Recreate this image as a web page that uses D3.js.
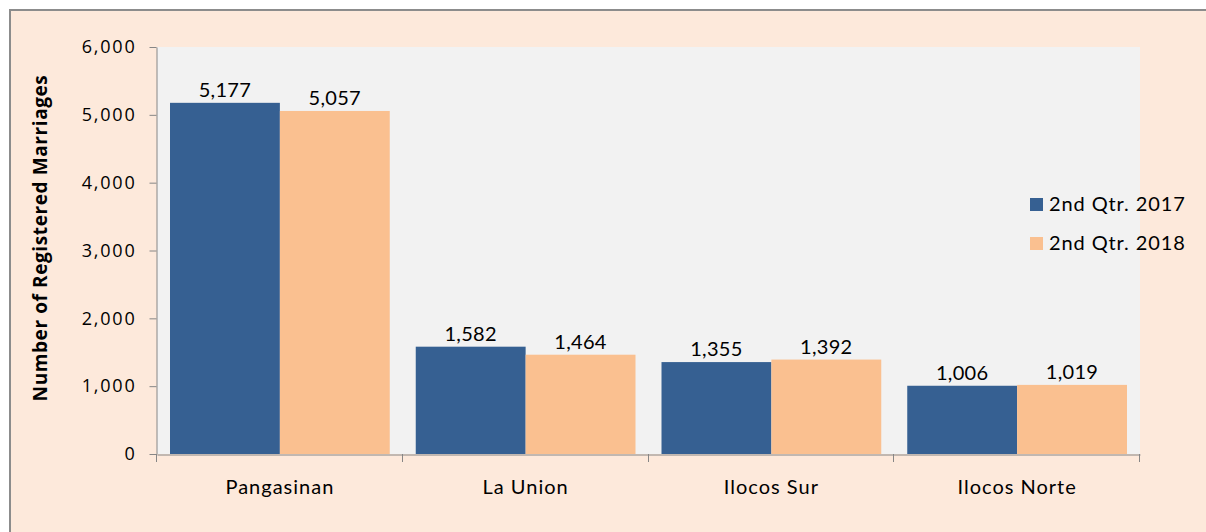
<!DOCTYPE html>
<html>
<head>
<meta charset="utf-8">
<script src="https://cdn.jsdelivr.net/npm/d3@7"></script>
<style>
  body { margin: 0; background: #ffffff; }
  svg { display: block; font-family: Lato, "Open Sans", sans-serif; }
</style>
</head>
<body>
<div id="chart"></div>
<script>
const provinces = ["Pangasinan", "La Union", "Ilocos Sur", "Ilocos Norte"];
const seriesNames = ["2nd Qtr. 2017", "2nd Qtr. 2018"];
const values2017 = [5177, 1582, 1355, 1006];
const values2018 = [5057, 1464, 1392, 1019];
const yTicks = [0, 1000, 2000, 3000, 4000, 5000, 6000];
const colors = ["#366092", "#fac090"];

const width = 1206, height = 532;
const plot = { left: 157, right: 1140, top: 47, bottom: 454 };

const svg = d3.select("#chart")
    .append("svg")
    .attr("width", width)
    .attr("height", height);

// chart frame
svg.append("rect")
    .attr("x", 10)
    .attr("y", 10)
    .attr("width", width + 10)
    .attr("height", height + 10)
    .style("fill", "#fde9db")
    .style("stroke", "#8c8c8c")
    .style("stroke-width", 2);

svg.append("rect")
    .attr("x", plot.left)
    .attr("y", plot.top)
    .attr("width", plot.right - plot.left)
    .attr("height", plot.bottom - plot.top)
    .style("fill", "#f2f2f2");

const x0 = d3.scaleBand()
    .domain(provinces)
    .range([plot.left, plot.right]);

const pad = 13;
const x1 = d3.scaleBand()
    .domain(seriesNames)
    .range([pad, x0.bandwidth() - pad]);

const yScale = d3.scaleLinear()
    .domain([0, 6000])
    .range([plot.bottom, plot.top]);

const data = provinces.map((p, i) => ({
    province: p,
    vals: [
        { s: seriesNames[0], v: values2017[i], c: colors[0] },
        { s: seriesNames[1], v: values2018[i], c: colors[1] }
    ]
}));

const groups = svg.selectAll(".group")
    .data(data)
    .enter().append("g")
    .attr("class", "group")
    .attr("transform", d => `translate(${x0(d.province)},0)`);

groups.selectAll("rect")
    .data(d => d.vals)
    .enter().append("rect")
    .attr("x", d => x1(d.s))
    .attr("y", d => yScale(d.v))
    .attr("width", x1.bandwidth())
    .attr("height", d => yScale(0) - yScale(d.v))
    .style("fill", d => d.c);

groups.selectAll("text")
    .data(d => d.vals)
    .enter().append("text")
    .attr("x", d => x1(d.s) + x1.bandwidth() / 2)
    .attr("y", d => yScale(d.v) - 6)
    .attr("text-anchor", "middle")
    .style("font-size", "20px")
    .style("letter-spacing", "0.3px")
    .style("fill", "#000")
    .text(d => d3.format(",")(d.v));

// y axis
const yAxis = svg.append("g")
    .attr("transform", `translate(${plot.left - 0.5},0)`)
    .call(d3.axisLeft(yScale).tickValues(yTicks).tickFormat(d3.format(","))
        .tickSize(7).tickPadding(13).tickSizeOuter(0));
yAxis.select(".domain").attr("stroke", "#868686");
yAxis.selectAll(".tick line").attr("stroke", "#868686");
yAxis.selectAll("text").style("font-size", "18px").style("fill", "#000")
    .style("letter-spacing", "1.8px")
    .style("font-family", "'Open Sans', sans-serif");

// x axis
const xAxis = svg.append("g")
    .attr("transform", `translate(0,${plot.bottom + 0.5})`)
    .call(d3.axisBottom(x0).tickSize(0).tickPadding(25).tickSizeOuter(0));
xAxis.select(".domain").attr("stroke", "#868686");
xAxis.selectAll("text").style("font-size", "20px").style("fill", "#000")
    .style("letter-spacing", "1px")
    .style("font-family", "Lato, sans-serif");

const boundaries = provinces.map(p => x0(p)).concat([plot.right]);
svg.selectAll(".xtick")
    .data(boundaries)
    .enter().append("line")
    .attr("class", "xtick")
    .attr("x1", d => Math.round(d) - 0.5)
    .attr("x2", d => Math.round(d) - 0.5)
    .attr("y1", plot.bottom)
    .attr("y2", plot.bottom + 8)
    .attr("stroke", "#868686");

// y axis title
svg.append("text")
    .attr("transform", "translate(47,238) rotate(-90)")
    .attr("text-anchor", "middle")
    .style("font-family", "'Open Sans', sans-serif")
    .style("font-size", "19px")
    .style("font-weight", "bold")
    .style("letter-spacing", "0.6px")
    .style("fill", "#000")
    .text("Number of Registered Marriages");

// legend
const legend = svg.selectAll(".legend-item")
    .data(seriesNames)
    .enter().append("g")
    .attr("class", "legend-item")
    .attr("transform", (d, i) => `translate(1030,${198 + 39 * i})`);

legend.append("rect")
    .attr("width", 13)
    .attr("height", 13)
    .style("fill", (d, i) => colors[i]);

legend.append("text")
    .attr("x", 19)
    .attr("y", 13)
    .style("font-size", "20px")
    .style("letter-spacing", "0.9px")
    .style("fill", "#000")
    .text(d => d);
</script>
</body>
</html>
